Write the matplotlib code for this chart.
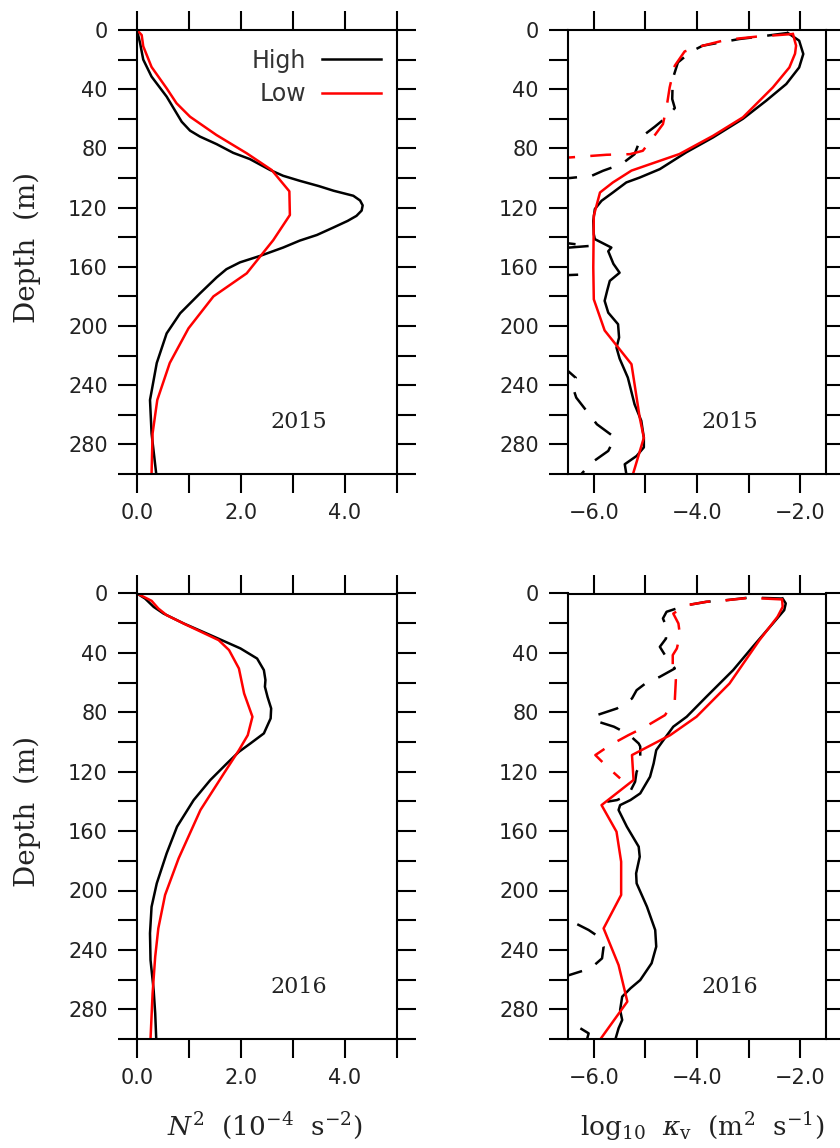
import matplotlib as mpl
mpl.use('Agg')
import matplotlib.pyplot as plt

mpl.rcParams['lines.scale_dashes'] = False
mpl.rcParams['mathtext.fontset'] = 'dejavuserif'

NAN = float('nan')

# ===== N^2 (1e-4 s^-2) =====
n2_15_high_z = [0, 9, 20, 31.5, 45, 62, 68, 72, 77.1, 83, 87.2, 94.6, 98.5, 101.9, 105.5, 108.6, 112,
                115.2, 118.5, 122, 125.6, 129, 133.4, 138.5, 142.3, 147, 152.6, 157, 161.6, 167.2, 178,
                191.4, 205, 225, 250, 272.5, 300]
n2_15_high = [0, 0.06, 0.12, 0.28, 0.57, 0.86, 1.02, 1.21, 1.53, 1.85, 2.17, 2.56, 2.81, 3.13, 3.50, 3.78,
              4.16, 4.29, 4.34, 4.32, 4.22, 4.05, 3.78, 3.46, 3.13, 2.81, 2.37, 1.98, 1.72, 1.53, 1.21,
              0.83, 0.57, 0.38, 0.25, 0.28, 0.37]
n2_15_low_z = [0, 3.4, 11, 25, 39.4, 49.5, 58.6, 71, 83.3, 94.6, 109, 125, 142, 164.4, 180, 201.6,
               225, 250, 272.5, 300]
n2_15_low = [0, 0.09, 0.12, 0.28, 0.57, 0.76, 1.02, 1.53, 2.11, 2.59, 2.93, 2.94, 2.62, 2.11, 1.47, 0.99,
             0.63, 0.39, 0.30, 0.28]

n2_16_high_z = [0, 3.4, 9, 13.5, 20.2, 28, 37, 43.8, 51.6, 58.3, 62.8, 69.6, 77.4, 84.1, 94.2, 101,
                106.6, 114.4, 125.6, 139.1, 157, 175, 195.2, 211, 228.8, 246.8, 267, 282.7, 300]
n2_16_high = [0, 0.155, 0.32, 0.51, 0.90, 1.41, 1.99, 2.31, 2.44, 2.47, 2.46, 2.51, 2.58, 2.57, 2.44, 2.18,
              1.96, 1.73, 1.41, 1.09, 0.77, 0.57, 0.38, 0.28, 0.25, 0.26, 0.32, 0.35, 0.37]
n2_16_low_z = [0, 4.9, 10.1, 14.6, 21.3, 31.4, 38.1, 50.5, 67.3, 83, 95.4, 105.5, 121.2, 145.8, 178.4,
               203, 225.5, 244.6, 269.2, 300]
n2_16_low = [0, 0.28, 0.41, 0.57, 0.96, 1.57, 1.77, 1.96, 2.06, 2.22, 2.13, 1.96, 1.67, 1.22, 0.80,
             0.54, 0.41, 0.35, 0.30, 0.26]

# ===== log10 kappa_v (m^2 s^-1); -7 = off the left edge, nan = break =====
kv_15_high_z = [2, 7.2, 16.2, 25.3, 36.5, 47.8, 60, 72.6, 82.7, 94, 99.7, 103, 109.8, 115.4, 121, 129,
                138, 141.3, 147, 149.5, 158, 164, 169.5, 176, 183, 191, 198.8, 207.8, 214.6, 222,
                234.9, 252.9, 264, 275.5, 282, 287.8, 293.4, 300]
kv_15_high = [-2.24, -2.02, -1.94, -2.02, -2.27, -2.66, -3.11, -3.69, -4.21, -4.72, -5.11, -5.37, -5.63,
              -5.85, -5.98, -6.01, -6.00, -5.98, -5.66, -5.72, -5.62, -5.50, -5.69, -5.74, -5.79, -5.72,
              -5.53, -5.51, -5.56, -5.50, -5.34, -5.21, -5.08, -5.03, -5.03, -5.17, -5.40, -5.37]
kv_15_low_z = [2.7, 10.6, 16, 25.3, 38.8, 59, 71.5, 83.8, 95, 103, 109.8, 125.5, 160.5, 182, 203,
               225.8, 261.9, 275.5, 300]
kv_15_low = [-2.14, -2.08, -2.10, -2.21, -2.53, -3.11, -3.69, -4.34, -5.27, -5.63, -5.88, -6.00, -6.01,
             -6.00, -5.79, -5.27, -5.11, -5.03, -5.24]
kv_15_high_b_z = [2, 3.9, 6.1, 10.6, 14.5, 21.9, 33, 46.7, 52.7, 58, 65.4, 71.5, 74.9, 83.9, 90.6, 95.1,
                  98.5, 100, 101, 142, 145.9, 148.5, 164.3, 165.3, 166.3, 229, 230.4, 235, 240, 248.4,
                  257.4, 266.4, 275.4, 284.4, 292.3, 300]
kv_15_high_b = [-2.24, -2.66, -3.18, -3.89, -4.11, -4.37, -4.47, -4.48, -4.43, -4.56, -4.82, -5.05, -5.11,
                -5.21, -5.46, -5.82, -6.04, -6.46, -7.0, -7.0, -6.08, -7.0, -7.0, -6.28, -7.0, -7.0, -6.5,
                -6.35, -6.42, -6.34, -6.14, -5.94, -5.59, -5.72, -6.04, -6.24]
kv_15_low_b_z = [2.7, 4.5, 6.6, 11.7, 14.5, 24.1, 29.8, 38.8, 52.3, 63.6, 72.6, 81.6, 83.9, 84.3, 86.1, 87]
kv_15_low_b = [-2.14, -2.85, -3.43, -4.01, -4.24, -4.43, -4.47, -4.53, -4.59, -4.66, -4.85, -5.05, -5.30,
               -5.75, -6.46, -7.0]

kv_16_high_z = [3.4, 6.7, 11.2, 20.2, 35.9, 51.6, 69.6, 83, 89.7, 98.7, 105.5, 114.4, 123.4, 134.6, 139.1,
                142.5, 145.8, 157, 170.5, 177.3, 188.5, 195.2, 210.9, 226.6, 237.8, 249, 260.3, 265.9,
                271.5, 280.5, 287.2, 292.8, 300]
kv_16_high = [-2.34, -2.28, -2.31, -2.53, -2.92, -3.30, -3.82, -4.20, -4.46, -4.65, -4.79, -4.84, -4.91,
              -5.10, -5.29, -5.49, -5.52, -5.36, -5.13, -5.11, -5.18, -5.17, -4.97, -4.81, -4.79, -4.88,
              -5.10, -5.29, -5.45, -5.49, -5.45, -5.52, -5.58]
kv_16_low_z = [4, 9, 15.7, 31.4, 60.6, 83, 95.4, 108.8, 125.6, 142.5, 160.4, 180.6, 203, 225.5, 250.2,
               274.8, 300]
kv_16_low = [-2.35, -2.34, -2.44, -2.79, -3.37, -4.01, -4.52, -5.26, -5.23, -5.85, -5.56, -5.47, -5.47,
             -5.81, -5.52, -5.35, -5.87]
kv_16_high_b_z = [3.4, 2.7, 4.5, 5.6, 7.9, 12.3, 16.8, 20.2, 30.3, 35.9, 41.5, 50.5, 56.1, 60.6, 65.1,
                  70.7, 77.4, 81.9, 85.3, 89.7, 94.7, 101, 103, 115.5, 120, 126.8, 135.7, 139.1, 140.2,
                  141, 219, 219.9, 226.6, 232, 237.8, 245.7, 252.4, 257, 258, 291, 292.8, 296.2, 300]
kv_16_high_b = [-2.34, -2.98, -3.43, -3.82, -4.20, -4.59, -4.66, -4.62, -4.60, -4.72, -4.62, -4.43, -4.72,
                -5.0, -5.17, -5.26, -5.55, -5.94, -6.01, -5.61, -5.33, -5.13, -5.10, -5.10, -5.17, -5.20,
                -5.33, -5.55, -5.74, NAN, -7.0, -6.48, -6.10, -5.87, -5.81, -5.84, -6.06, -6.48, -7.0,
                NAN, -6.26, -6.10, -6.13]
kv_16_low_b_z = [4, 2.9, 4.5, 5.6, 7.9, 13.5, 20.2, 28, 37, 41.5, 48.2, 58.3, 71.8, 81.9, 89.7, 95.4,
                 102, 108.8, 116.7, 124.5]
kv_16_low_b = [-2.35, -2.98, -3.43, -3.82, -4.20, -4.46, -4.36, -4.33, -4.39, -4.47, -4.47, -4.41, -4.43,
               -4.62, -5.0, -5.33, -5.68, -5.97, -5.74, -5.49]

years = ['2015', '2016']
depth_ticks = list(range(0, 301, 20))
depth_labels = [str(d) if d % 40 == 0 else '' for d in depth_ticks]
n2_ticks = [0, 1, 2, 3, 4, 5]
n2_labels = ['0.0', '', '2.0', '', '4.0', '']
kv_ticks = [-6, -5, -4, -3, -2]
kv_labels = ['\u22126.0', '', '\u22124.0', '', '\u22122.0']

W, H = 840, 1148
fig = plt.figure(figsize=(W / 100, H / 100), dpi=100)
DASH = (0, (15, 11))
LW = 1.8
TXT = '#222222'


def make_ax(x0, y0, x1, y1):
    ax = fig.add_axes([x0 / W, 1 - y1 / H, (x1 - x0) / W, (y1 - y0) / H])
    for s in ax.spines.values():
        s.set_linewidth(1.5)
    ax.tick_params(direction='out', length=13.5, width=1.5, top=True, right=True,
                   labelsize=15, pad=7.5, labelcolor=TXT)
    ax.set_ylim(300, 0)
    ax.set_yticks(depth_ticks)
    ax.set_yticklabels(depth_labels)
    return ax


rows = [(30, 474), (593.5, 1039)]
n2_data = [((n2_15_high, n2_15_high_z), (n2_15_low, n2_15_low_z)),
           ((n2_16_high, n2_16_high_z), (n2_16_low, n2_16_low_z))]
kv_data = [((kv_15_high, kv_15_high_z), (kv_15_high_b, kv_15_high_b_z),
            (kv_15_low, kv_15_low_z), (kv_15_low_b, kv_15_low_b_z)),
           ((kv_16_high, kv_16_high_z), (kv_16_high_b, kv_16_high_b_z),
            (kv_16_low, kv_16_low_z), (kv_16_low_b, kv_16_low_b_z))]

for i, (y0, y1) in enumerate(rows):
    # --- N^2 panel ---
    ax = make_ax(137, y0, 397, y1)
    (hv, hz), (lv, lz) = n2_data[i]
    l1, = ax.plot(hv, hz, color='black', lw=LW, label='High')
    l2, = ax.plot(lv, lz, color='red', lw=LW, label='Low')
    ax.set_xlim(0, 5)
    ax.set_xticks(n2_ticks)
    ax.set_xticklabels(n2_labels)
    ax.set_ylabel('Depth  (m)', family='DejaVu Serif', fontsize=20, color=TXT, va='center')
    ax.yaxis.set_label_coords(-0.42, 0.51)
    ax.text(0.623, 0.117, years[i], transform=ax.transAxes, ha='center', va='center',
            family='DejaVu Serif', fontsize=16, color=TXT)
    if i == 0:
        ax.legend(handles=[l1, l2], loc='upper right', bbox_to_anchor=(0.94, 0.958),
                  markerfirst=False, frameon=False, borderpad=0, borderaxespad=0,
                  handlelength=2.5, handletextpad=0.7, labelspacing=0.4,
                  prop={'family': 'DejaVu Sans', 'size': 17}, labelcolor='#333333')
    else:
        ax.set_xlabel(r'$N^2$  (10$^{-4}$  s$^{-2}$)', family='DejaVu Serif', fontsize=19, color=TXT)
        ax.xaxis.set_label_coords(0.49, -0.16)

    # --- kappa panel ---
    ax = make_ax(568, y0, 826, y1)
    (hv, hz), (hbv, hbz), (lv, lz), (lbv, lbz) = kv_data[i]
    ax.plot(hv, hz, color='black', lw=LW)
    ax.plot(hbv, hbz, color='black', lw=LW, ls=DASH)
    ax.plot(lv, lz, color='red', lw=LW)
    ax.plot(lbv, lbz, color='red', lw=LW, ls=DASH)
    ax.set_xlim(-6.5, -1.5)
    ax.set_xticks(kv_ticks)
    ax.set_xticklabels(kv_labels)
    ax.text(0.627, 0.117, years[i], transform=ax.transAxes, ha='center', va='center',
            family='DejaVu Serif', fontsize=16, color=TXT)
    if i == 1:
        ax.set_xlabel(r'log$_{10}$  $\kappa_{\rm v}$  (m$^2$  s$^{-1}$)', family='DejaVu Serif',
                      fontsize=19, color=TXT)
        ax.xaxis.set_label_coords(0.52, -0.16)

fig.savefig('out.png', dpi=100)
